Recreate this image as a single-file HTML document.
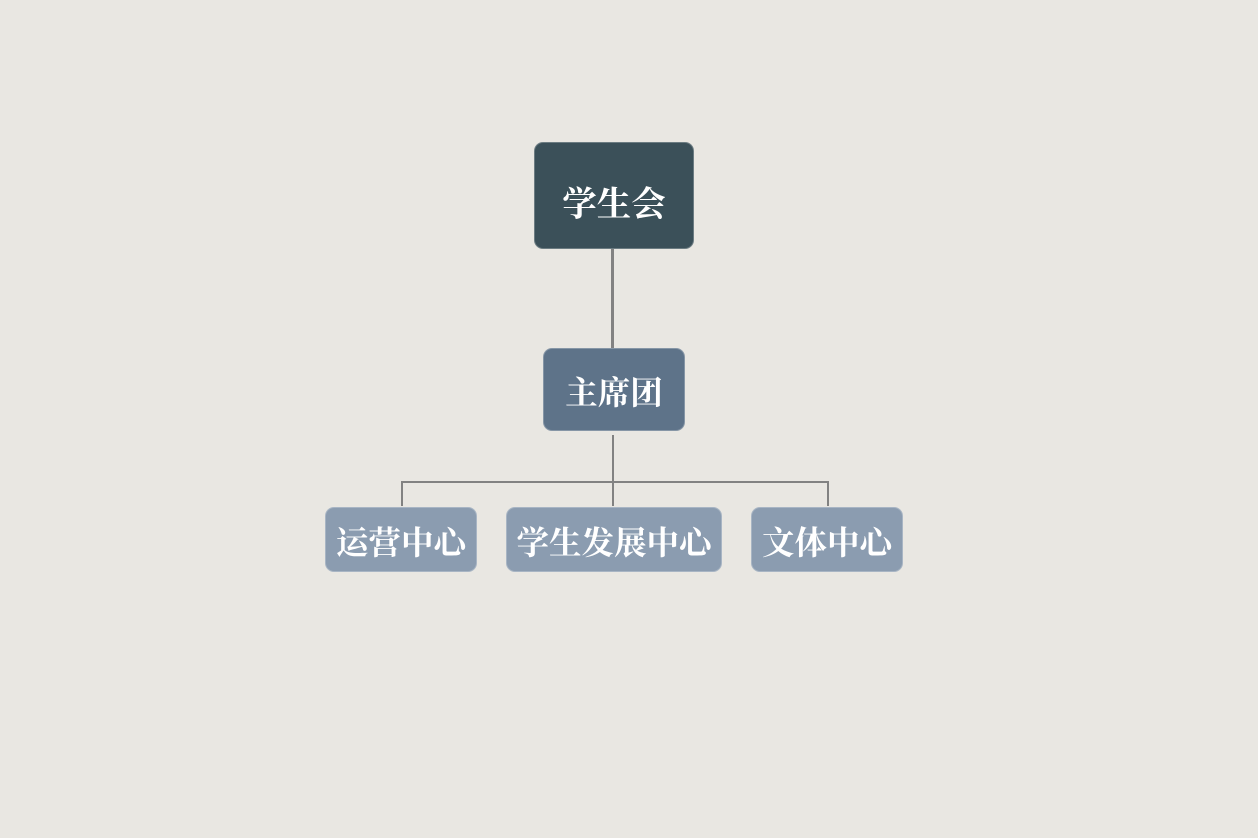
<!DOCTYPE html>
<html><head><meta charset="utf-8"><style>
html,body{margin:0;padding:0;background:#e9e7e2;width:1258px;height:838px;overflow:hidden;position:relative}
.b{position:absolute;box-sizing:border-box;border-radius:9px;color:#fff;display:flex;align-items:center;justify-content:center;font-family:"Liberation Serif","Noto Serif CJK SC",serif;font-weight:bold;border:1px solid rgba(255,255,255,0.25)}
.l{position:absolute;background:#828282}
</style></head><body>
<div class="l" style="left:611px;top:248px;width:3px;height:101px"></div>
<div class="l" style="left:612px;top:435px;width:2px;height:71px"></div>
<div class="l" style="left:401px;top:481px;width:428px;height:2px"></div>
<div class="l" style="left:401px;top:481px;width:2px;height:25px"></div>
<div class="l" style="left:827px;top:481px;width:2px;height:25px"></div>
<div class="b" style="left:534px;top:142px;width:160px;height:107px;background:#3b5059;font-size:34.5px;padding-top:10px">学生会</div>
<div class="b" style="left:543px;top:348px;width:142px;height:83px;background:#5e7389;font-size:32.5px;padding-top:2px">主席团</div>
<div class="b" style="left:325px;top:507px;width:152px;height:65px;background:#8b9cb0;font-size:32.5px;padding-top:2px">运营中心</div>
<div class="b" style="left:506px;top:507px;width:216px;height:65px;background:#8b9cb0;font-size:32.5px;padding-top:2px">学生发展中心</div>
<div class="b" style="left:751px;top:507px;width:152px;height:65px;background:#8b9cb0;font-size:32.5px;padding-top:2px">文体中心</div>
</body></html>
